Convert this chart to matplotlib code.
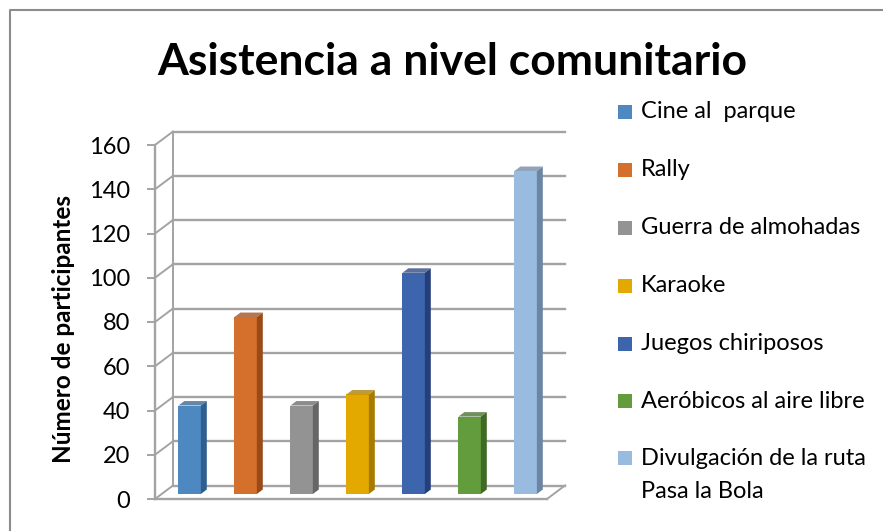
import matplotlib
matplotlib.use("Agg")
import matplotlib.pyplot as plt
from matplotlib.patches import Polygon, Rectangle
from matplotlib.lines import Line2D
import numpy as np

W, H = 883, 531

categorias = ["Cine al  parque", "Rally", "Guerra de almohadas", "Karaoke",
              "Juegos chiriposos", "Aeróbicos al aire libre",
              "Divulgación de la ruta\nPasa la Bola"]
valores = [40, 80, 40, 45, 100, 35, 146]
colores = ["#4e88c0", "#d4702b", "#939393", "#e3a900", "#3d65ae", "#629c3c", "#9abbe0"]
lados = ["#2f5f8f", "#9a4a18", "#666666", "#a67b00", "#253f7a", "#3f6a24", "#6b85a3"]
ticks_y = list(range(0, 161, 20))

plt.rcParams['font.family'] = ['Lato', 'DejaVu Sans']

fig = plt.figure(figsize=(W / 100, H / 100), dpi=100)

# front plane of the 3d box, in pixels
x0, x1 = 155, 547
y0, y1 = 499, 145
ax = fig.add_axes([x0 / W, 1 - y0 / H, (x1 - x0) / W, (y0 - y1) / H])
n = len(valores)
ax.set_xlim(0, n)
ax.set_ylim(0, 160)

# depth of the box in data units
DX = 18 / ((x1 - x0) / n)
DY = 13.5 / ((y0 - y1) / 160)
grid_c = "#a3a3a3"

for v in ticks_y:
    ax.plot([DX, n + DX], [v + DY, v + DY], color=grid_c, lw=1.7, clip_on=False, zorder=1)
    ax.plot([0, DX], [v, v + DY], color=grid_c, lw=1.4, clip_on=False, zorder=1)
ax.plot([DX, DX], [DY, 160 + DY], color=grid_c, lw=1.4, clip_on=False, zorder=1)
ax.plot([n, n + DX], [0, DY], color=grid_c, lw=1.4, clip_on=False, zorder=1)

# bars: front face at f0 of the depth, back face at f1
f0, f1 = 0.37, 0.70
bw = 0.40
xs = np.arange(n) + 0.5 - bw / 2 + f0 * DX
base = f0 * DY
ddx, ddy = (f1 - f0) * DX, (f1 - f0) * DY
ax.bar(xs, valores, width=bw, bottom=base, align='edge', color=colores, zorder=3, clip_on=False)
for xl, v, c, s in zip(xs, valores, colores, lados):
    xr = xl + bw
    top = base + v
    ax.add_patch(Polygon([(xr, base), (xr + ddx, base + ddy), (xr + ddx, top + ddy), (xr, top)],
                         closed=True, fc=s, ec='none', zorder=3, clip_on=False))
    ax.add_patch(Polygon([(xl, top), (xr, top), (xr + ddx, top + ddy), (xl + ddx, top + ddy)],
                         closed=True, fc=s, ec='none', alpha=0.75, zorder=3, clip_on=False))

ax.set_yticks(ticks_y)
ax.set_yticklabels([str(t) for t in ticks_y], fontsize=17)
ax.set_xticks([])
ax.tick_params(axis='y', length=6, width=1.4, color=grid_c, pad=12)
for side in ["top", "right"]:
    ax.spines[side].set_visible(False)
ax.spines["left"].set_color(grid_c)
ax.spines["bottom"].set_color(grid_c)
ax.spines["left"].set_linewidth(1.7)
ax.spines["bottom"].set_linewidth(1.7)
ax.patch.set_alpha(0)

ax.set_ylabel("Número de participantes", fontsize=17.5, fontweight='bold')
ax.yaxis.set_label_coords(-(x0 - 75) / (x1 - x0), 0.48)

fig.text(452 / W, 1 - 62 / H, "Asistencia a nivel comunitario", fontsize=32,
         fontweight='bold', ha='center', va='center')

# legend
ys = [112, 170, 228, 286, 344, 401, 458]
for yy, lab, c in zip(ys, categorias, colores):
    fig.patches.append(Rectangle(((618) / W, 1 - (yy + 7) / H), 14 / W, 14 / H,
                                 transform=fig.transFigure, fc=c, ec='none'))
    fig.text(641 / W, 1 - (yy + 17 * lab.count("\n")) / H, lab, fontsize=17,
             ha='left', va='center', linespacing=1.7)

# chart border
fig.lines.append(Line2D([10 / W, 10 / W, 1.0], [0.0, 1 - 10 / H, 1 - 10 / H],
                        transform=fig.transFigure, color="#8c8c8c", lw=1.5))

fig.savefig("out.png", dpi=100)
